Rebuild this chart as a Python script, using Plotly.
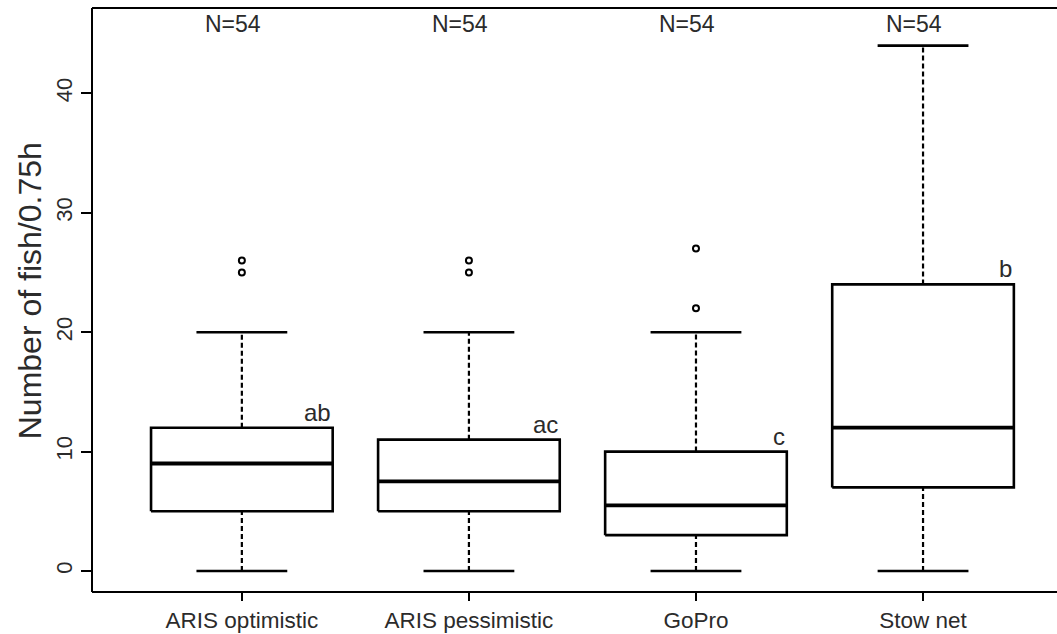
import plotly.graph_objects as go

# ---- data ----
categories = ["ARIS optimistic", "ARIS pessimistic", "GoPro", "Stow net"]
lower_whisker = [0, 0, 0, 0]
q1 = [5, 5, 3, 7]
median = [9, 7.5, 5.5, 12]
q3 = [12, 11, 10, 24]
upper_whisker = [20, 20, 20, 44]
outliers = [[25, 26], [25, 26], [22, 27], []]
letters = ["ab", "ac", "c", "b"]
n_obs = [54, 54, 54, 54]
y_ticks = [0, 10, 20, 30, 40]

FONT = "Liberation Sans, Arial, sans-serif"
TXT = "#2b2b2b"
HALF_BOX = 0.4
HALF_CAP = 0.2

positions = list(range(1, len(categories) + 1))

fig = go.Figure()

box_x, box_y = [], []
med_x, med_y = [], []
wh_x, wh_y = [], []
cap_x, cap_y = [], []
out_x, out_y = [], []
for p, lo, a, m, b, hi, outs in zip(positions, lower_whisker, q1, median, q3,
                                    upper_whisker, outliers):
    box_x += [p - HALF_BOX, p + HALF_BOX, p + HALF_BOX, p - HALF_BOX, p - HALF_BOX, None]
    box_y += [a, a, b, b, a, None]
    med_x += [p - HALF_BOX, p + HALF_BOX, None]
    med_y += [m, m, None]
    wh_x += [p, p, None, p, p, None]
    wh_y += [lo, a, None, b, hi, None]
    cap_x += [p - HALF_CAP, p + HALF_CAP, None, p - HALF_CAP, p + HALF_CAP, None]
    cap_y += [lo, lo, None, hi, hi, None]
    for o in outs:
        out_x.append(p)
        out_y.append(o)

fig.add_trace(go.Scatter(x=wh_x, y=wh_y, mode="lines",
                         line=dict(color="black", width=2.2, dash="5px,3px"),
                         hoverinfo="skip"))
fig.add_trace(go.Scatter(x=cap_x, y=cap_y, mode="lines",
                         line=dict(color="black", width=2.6), hoverinfo="skip"))
fig.add_trace(go.Scatter(x=box_x, y=box_y, mode="lines", fill="toself",
                         fillcolor="white",
                         line=dict(color="black", width=2.6), hoverinfo="skip"))
fig.add_trace(go.Scatter(x=med_x, y=med_y, mode="lines",
                         line=dict(color="black", width=3.8), hoverinfo="skip"))
fig.add_trace(go.Scatter(x=out_x, y=out_y, mode="markers",
                         marker=dict(symbol="circle-open", size=6, color="black",
                                     line=dict(width=2, color="black")),
                         hoverinfo="skip"))

annotations = []
for p, n, let, b in zip(positions, n_obs, letters, q3):
    annotations.append(dict(x=p, y=45.8, xref="x", yref="y", text=f"N={n}",
                            showarrow=False, xshift=-9,
                            font=dict(family=FONT, size=23, color=TXT),
                            xanchor="center", yanchor="middle"))
    annotations.append(dict(x=p + HALF_BOX, y=b, xref="x", yref="y", text=let,
                            showarrow=False, xanchor="right", yanchor="bottom",
                            font=dict(family=FONT, size=24, color=TXT)))
annotations.append(dict(x=-(92 - 30) / 965, y=0.515, xref="paper", yref="paper",
                        text="Number of fish/0.75h", showarrow=False, textangle=-90,
                        xanchor="center", yanchor="middle",
                        font=dict(family=FONT, size=32, color=TXT)))

frame = dict(type="line", xref="paper", yref="paper",
             line=dict(color="black", width=2))
shapes = [
    dict(frame, x0=0, x1=1, y0=1, y1=1),
    dict(frame, x0=0, x1=1, y0=0, y1=0),
    dict(frame, x0=0, x1=0, y0=0, y1=1),
    # white strip hiding any edge line at the cropped right side
    dict(type="rect", xref="paper", yref="paper", x0=0.993, x1=1.0,
         y0=0.005, y1=0.995, fillcolor="white", line=dict(width=0),
         layer="above"),
]

fig.update_layout(
    width=1057, height=634,
    margin=dict(l=92, r=0, t=8, b=42, autoexpand=False),
    paper_bgcolor="white", plot_bgcolor="white",
    showlegend=False,
    annotations=annotations,
    shapes=shapes,
    xaxis=dict(range=[0.34, 4.59], tickvals=positions, ticktext=categories,
               showgrid=False, zeroline=False, showline=False, automargin=False,
               ticks="outside", ticklen=8,
               tickwidth=2, tickcolor="black",
               tickfont=dict(family=FONT, size=22.5, color=TXT)),
    yaxis=dict(range=[-1.76, 47.15], tickvals=y_ticks, automargin=False,
               showgrid=False, zeroline=False, showline=False,
               ticks="outside", ticklen=10,
               tickwidth=2, tickcolor="black", tickangle=-90,
               tickfont=dict(family=FONT, size=22, color=TXT)),
)

fig.write_html("out.html", config={"displayModeBar": False})
